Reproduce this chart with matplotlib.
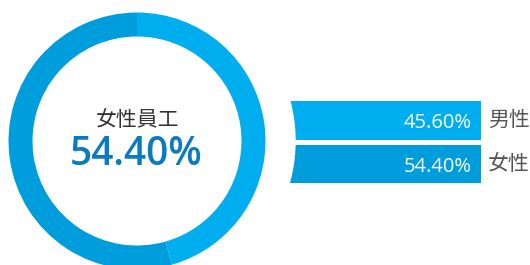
import matplotlib
matplotlib.use('Agg')
import matplotlib.pyplot as plt
from matplotlib.patches import Circle

# data
categories = ['男性', '女性']
shares = [45.60, 54.40]
colors = ['#00aeef', '#009ddd']
center_title = '女性員工'
center_value = shares[1]

W, H = 530, 265
fig = plt.figure(figsize=(W / 100, H / 100), dpi=100)
ax = fig.add_axes([0, 0, 1, 1])
ax.set_xlim(0, W)
ax.set_ylim(0, H)
ax.set_aspect('equal')
ax.axis('off')

cx, cy = 137, H - 141
r_out, ring = 128.5, 24

# bars behind the donut, left ends cut by a white circle
bar_y = [H - 120, H - 164]
bar_h = [39, 38]
for i, cat in enumerate(categories):
    ax.barh(bar_y[i], 481 - 250, left=250, height=bar_h[i], color=colors[i], zorder=1)
    ax.text(472, bar_y[i] - 8, '{:.2f}%'.format(shares[i]), color='white',
            fontsize=14.5, ha='right', va='baseline',
            family=['Open Sans', 'Noto Sans CJK TC'], zorder=4)
    ax.text(488, bar_y[i] + 0.5, cat, color='#555555', fontsize=15,
            fontweight='light', ha='left', va='center',
            family=['Noto Sans CJK TC'], zorder=4)

ax.add_patch(Circle((cx, cy), 158, color='white', zorder=2))

# donut
ax.pie(shares, colors=colors, startangle=90, counterclock=False,
       radius=r_out, center=(cx, cy), frame=True,
       wedgeprops=dict(width=ring, linewidth=0, zorder=3))
ax.set_xlim(0, W)
ax.set_ylim(0, H)
ax.axis('off')

ax.text(cx + 0.5, H - 119.5, center_title, color='#333333', fontsize=15,
        ha='center', va='center', family=['Noto Sans CJK TC'], zorder=4)
ax.text(cx - 1, H - 165, '{:.2f}%'.format(center_value), color='#0b7bc1',
        fontsize=28, fontweight='semibold', ha='center', va='baseline',
        family=['Open Sans', 'Noto Sans CJK TC'], zorder=4)

fig.savefig('out.png', dpi=100)
